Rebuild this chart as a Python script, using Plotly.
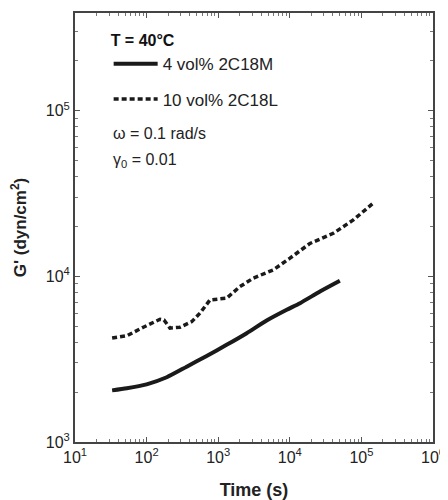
import plotly.graph_objects as go

# G' vs time
time_4vol = [33, 53, 100, 191, 363, 690, 1310, 2500, 4750, 9060, 13900, 26400, 50000]
g_4vol = [2050, 2110, 2230, 2460, 2850, 3310, 3860, 4540, 5410, 6280, 6890, 8100, 9400]

time_10vol = [33, 53, 90, 154, 175, 212, 292, 427, 557, 768, 1310, 2010, 3090, 5890, 10070, 19100, 40500, 77100, 146600]
g_10vol = [4240, 4380, 4930, 5510, 5450, 4870, 4930, 5330, 6000, 7210, 7380, 8670, 9750, 10950, 12880, 15800, 18200, 21900, 27700]

x_ticks = [10, 100, 1e3, 1e4, 1e5, 1e6]
x_labels = ["10<sup>1</sup>", "10<sup>2</sup>", "10<sup>3</sup>", "10<sup>4</sup>", "10<sup>5</sup>", "10<sup>6</sup>"]
y_ticks = [1e3, 1e4, 1e5]
y_labels = ["10<sup>3</sup>", "10<sup>4</sup>", "10<sup>5</sup>"]

# minor ticks at 2..9 of every decade
x_minor = [m * 10 ** e for e in range(1, 6) for m in range(2, 10)]
y_minor = [m * 10 ** e for e in range(3, 6) for m in range(2, 10)]

FONT = "Liberation Sans"

fig = go.Figure()
fig.add_trace(go.Scatter(x=time_4vol, y=g_4vol, mode="lines", name="4 vol% 2C18M",
                         legendgroup="a", line=dict(color="#1a1a1a", width=4, shape="spline", smoothing=0.6)))
fig.add_trace(go.Scatter(x=time_10vol, y=g_10vol, mode="lines", name="10 vol% 2C18L",
                         legendgroup="b", line=dict(color="#1a1a1a", width=3.5, dash="5px,3px")))

axis_common = dict(
    showline=True, linecolor="#444", linewidth=2, mirror="allticks",
    ticks="inside", ticklen=5, tickcolor="#555", tickwidth=1,
    showgrid=False, zeroline=False, automargin=False,
    tickfont=dict(family=FONT, size=16, color="#222"),
)

fig.update_xaxes(type="log", range=[1, 6], tickmode="array", tickvals=x_ticks, ticktext=x_labels,
                 minor=dict(ticks="inside", ticklen=3, tickcolor="#777", tickmode="array", tickvals=x_minor),
                 title=dict(text="<b>Time (s)</b>", font=dict(family=FONT, size=18, color="#222"), standoff=18),
                 **axis_common)
fig.update_yaxes(type="log", range=[3, 5.59], tickmode="array", tickvals=y_ticks, ticktext=y_labels,
                 minor=dict(ticks="inside", ticklen=3, tickcolor="#777", tickmode="array", tickvals=y_minor),
                 title=dict(text="<b>G' (dyn/cm<sup>2</sup>)</b>", font=dict(family=FONT, size=17, color="#222"), standoff=16),
                 **axis_common)

fig.add_annotation(text="ω = 0.1 rad/s", xref="paper", yref="paper", x=0.1, y=0.719,
                   xanchor="left", yanchor="middle", showarrow=False,
                   font=dict(family=FONT, size=16, color="#222"))
fig.add_annotation(text="γ<sub>0</sub> = 0.01", xref="paper", yref="paper", x=0.1, y=0.656,
                   xanchor="left", yanchor="middle", showarrow=False,
                   font=dict(family=FONT, size=16, color="#222"))

# the page puts the figure 8px in from the corner, so the figure is 8px smaller
fig.update_layout(
    width=440, height=492,
    margin=dict(l=67, r=15, t=5, b=58),
    plot_bgcolor="white", paper_bgcolor="white",
    showlegend=True,
    legend=dict(x=0.094, y=0.971, xanchor="left", yanchor="top",
                title=dict(text="<b>T = 40°C</b>", font=dict(family=FONT, size=16, color="#111")),
                font=dict(family=FONT, size=17, color="#222"),
                bgcolor="rgba(0,0,0,0)", itemwidth=44, tracegroupgap=10),
)

fig.write_html("out.html")
